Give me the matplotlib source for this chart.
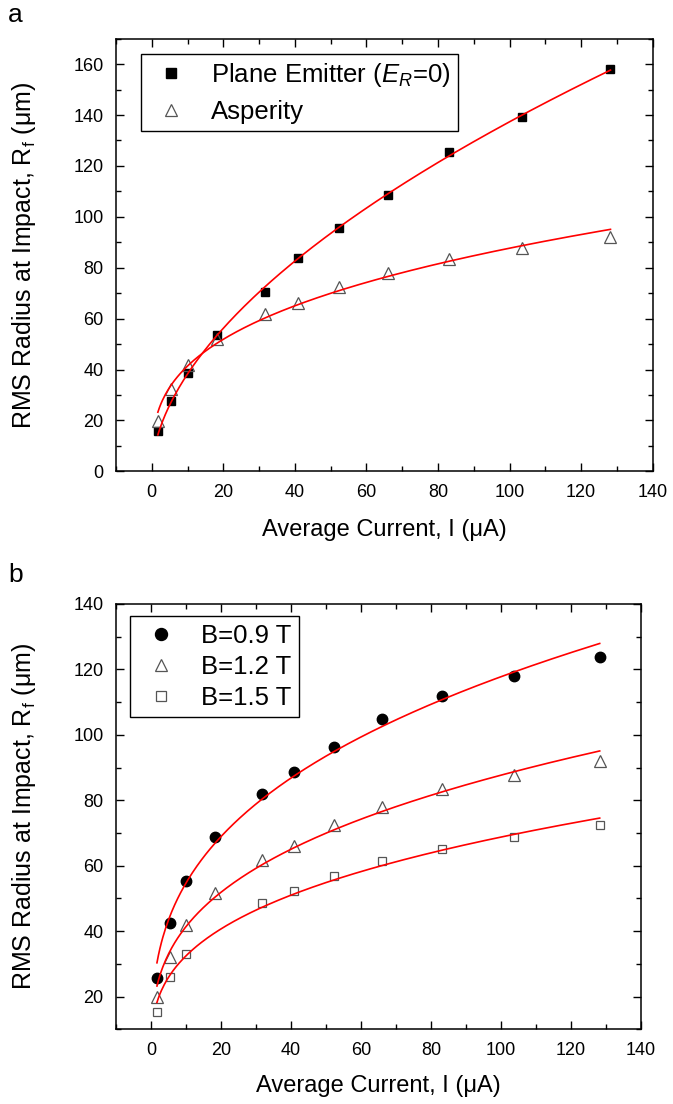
import numpy as np
import matplotlib
matplotlib.use("Agg")
import matplotlib.pyplot as plt
from matplotlib.ticker import MultipleLocator

plt.rcParams['font.family'] = ['Liberation Sans', 'DejaVu Sans']
plt.rcParams['mathtext.fontset'] = 'custom'
plt.rcParams['mathtext.rm'] = 'Liberation Sans'
plt.rcParams['mathtext.it'] = 'Liberation Sans:italic'

# corriente media (uA)
corriente = np.array([1.7, 5.4, 10.1, 18.3, 31.6, 40.8, 52.2, 66.1, 83.2, 103.6, 128.2])
corriente_b15 = np.array([1.7, 5.4, 10.1, 31.6, 40.8, 52.2, 66.1, 83.2, 103.6, 128.2])

# panel a
emisor_plano = np.array([15.9, 27.7, 38.8, 53.5, 70.5, 84.0, 95.6, 108.6, 125.3, 139.4, 158.1])
asperidad = np.array([19.8, 32.2, 41.9, 51.8, 61.8, 66.1, 72.5, 77.9, 83.4, 87.8, 92.1])

# panel b
b09 = np.array([25.6, 42.4, 55.4, 68.7, 82.0, 88.8, 96.4, 104.8, 111.9, 118.0, 123.8])
b12 = asperidad
b15 = np.array([15.4, 25.9, 33.0, 48.5, 52.3, 56.9, 61.3, 65.1, 68.7, 72.4])


def ajuste_potencia(x, y):
    """Ajuste por minimos cuadrados de y = a * x**b"""
    mejor = None
    for b in np.linspace(0.1, 1.0, 901):
        xb = x ** b
        a = np.sum(y * xb) / np.sum(xb * xb)
        err = np.sum((y - a * xb) ** 2)
        if mejor is None or err < mejor[0]:
            mejor = (err, a, b)
    return mejor[1], mejor[2]


def curva(ax, x, y):
    a, b = ajuste_potencia(x, y)
    xs = np.linspace(x.min(), x.max(), 300)
    ax.plot(xs, a * xs ** b, color='red', lw=1.2, zorder=3)


def estilo(ax, ymin, ymax):
    ax.set_xlim(-10, 140)
    ax.set_ylim(ymin, ymax)
    ax.xaxis.set_major_locator(MultipleLocator(20))
    ax.xaxis.set_minor_locator(MultipleLocator(10))
    ax.yaxis.set_major_locator(MultipleLocator(20))
    ax.yaxis.set_minor_locator(MultipleLocator(10))
    ax.tick_params(which='both', direction='in', top=True, right=True,
                   width=1.0, labelsize=13, pad=9)
    ax.tick_params(which='major', length=6)
    ax.tick_params(which='minor', length=3.5)
    for s in ax.spines.values():
        s.set_linewidth(1.1)
    ax.set_xlabel('Average Current, I (μA)', fontsize=17)
    ax.set_ylabel('RMS Radius at Impact, $\\mathregular{R_f}$ (μm)', fontsize=18)


def leyenda(ax, pos, espacio, borde):
    ley = ax.legend(loc='upper left', bbox_to_anchor=pos, borderaxespad=0,
                    fontsize=18.5, fancybox=False, edgecolor='black', framealpha=1,
                    handlelength=1.8, handletextpad=0.66, borderpad=borde,
                    labelspacing=espacio, markerscale=1.15)
    ley.get_frame().set_linewidth(1.0)


fig = plt.figure(figsize=(6.73, 11.04), dpi=100)
W, H = 673, 1104

# ---- panel a
ax1 = fig.add_axes([116 / W, 1 - 471.3 / H, 536.7 / W, 432.6 / H])
ax1.plot(corriente, emisor_plano, 's', color='black', ms=6, ls='none',
         label='Plane Emitter ($E_R$=0)', zorder=2)
ax1.plot(corriente, asperidad, '^', mfc='none', mec='#555555', mew=0.9, ms=8,
         ls='none', label='Asperity', zorder=2)
curva(ax1, corriente, emisor_plano)
curva(ax1, corriente, asperidad)
estilo(ax1, 0, 170)
ax1.xaxis.set_label_coords(0.5, -0.110)
ax1.yaxis.set_label_coords(-0.145, 0.5)
leyenda(ax1, (0.047, 0.9646), 0.44, 0.27)

# ---- panel b
ax2 = fig.add_axes([116 / W, 1 - 1029.3 / H, 525 / W, 425.3 / H])
ax2.plot(corriente, b09, 'o', color='black', ms=7.5, ls='none', label='B=0.9 T', zorder=2)
ax2.plot(corriente, b12, '^', mfc='none', mec='#555555', mew=0.9, ms=8,
         ls='none', label='B=1.2 T', zorder=2)
ax2.plot(corriente_b15, b15, 's', mfc='none', mec='#555555', mew=0.9, ms=6,
         ls='none', label='B=1.5 T', zorder=2)
curva(ax2, corriente, b09)
curva(ax2, corriente, b12)
curva(ax2, corriente_b15, b15)
estilo(ax2, 10, 140)
ax2.xaxis.set_label_coords(0.5, -0.108)
ax2.yaxis.set_label_coords(-0.148, 0.5)
leyenda(ax2, (0.027, 0.9718), 0.27, 0.3)

fig.text(8 / W, 1 - 15 / H, 'a', fontsize=19, va='center', ha='left')
fig.text(8 / W, 1 - 575 / H, 'b', fontsize=19, va='center', ha='left')

fig.savefig('out.png', dpi=100)
